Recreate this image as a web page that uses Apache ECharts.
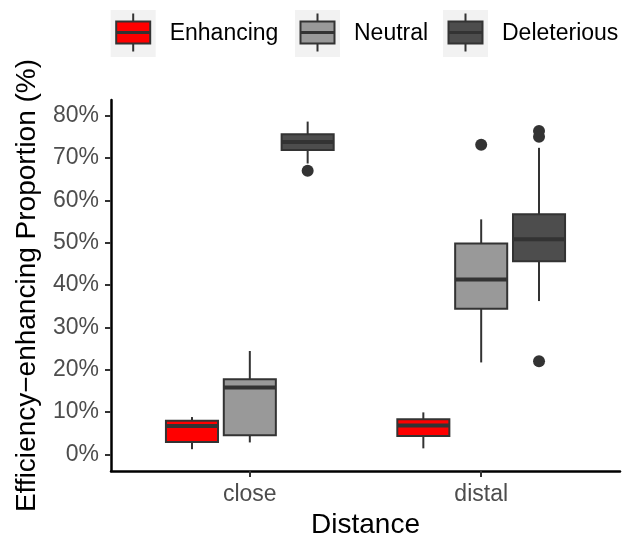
<!DOCTYPE html>
<html>
<head>
<meta charset="utf-8">
<script src="https://cdn.jsdelivr.net/npm/echarts@6/dist/echarts.min.js"></script>
<style>
  html, body { margin: 0; padding: 0; background: #fff; }
  #chart { width: 637px; height: 537px; }
</style>
</head>
<body>
<div id="chart"></div>
<script>
// categories and groups
const distances = ['close', 'distal'];
const groups = ['Enhancing', 'Neutral', 'Deleterious'];
const groupColors = ['#ff0000', '#999999', '#4d4d4d'];

// box stats per distance: [lower whisker, Q1, median, Q3, upper whisker] in %
const enhancingStats = [[1.2, 2.9, 6.7, 7.95, 8.8], [1.4, 4.3, 6.8, 8.3, 9.9]];
const neutralStats = [[2.8, 4.5, 15.8, 17.7, 24.4], [21.7, 34.4, 41.3, 49.8, 55.5]];
const deleteriousStats = [[68.7, 71.9, 73.8, 75.6, 78.6], [36.2, 45.6, 50.8, 56.7, 72.4]];

// outliers per distance
const enhancingOutliers = [[], []];
const neutralOutliers = [[], [73.1]];
const deleteriousOutliers = [[67.0], [76.4, 75.0, 22.0]];

const yTicks = [0, 10, 20, 30, 40, 50, 60, 70, 80];

const allStats = [enhancingStats, neutralStats, deleteriousStats];
const allOutliers = [enhancingOutliers, neutralOutliers, deleteriousOutliers];
const dodge = [-0.25, 0, 0.25];
const boxWidth = 0.225;
const font = '"Liberation Sans", Arial, Helvetica, sans-serif';

let chart = echarts.init(document.getElementById('chart'));

function renderBox(params, api) {
  let x = api.value(0);
  let low = api.coord([x, api.value(1)]);
  let q1 = api.coord([x, api.value(2)]);
  let med = api.coord([x, api.value(3)]);
  let q3 = api.coord([x, api.value(4)]);
  let high = api.coord([x, api.value(5)]);
  let half = api.size([boxWidth, 0])[0] / 2;
  let fill = api.visual('color');
  return {
    type: 'group',
    children: [
      { type: 'line', shape: { x1: low[0], y1: low[1], x2: q1[0], y2: q1[1] }, style: { stroke: '#333', lineWidth: 2 } },
      { type: 'line', shape: { x1: high[0], y1: high[1], x2: q3[0], y2: q3[1] }, style: { stroke: '#333', lineWidth: 2 } },
      { type: 'rect', shape: { x: q3[0] - half, y: q3[1], width: half * 2, height: q1[1] - q3[1] }, style: { fill: fill, stroke: '#333', lineWidth: 2 } },
      { type: 'line', shape: { x1: med[0] - half, y1: med[1], x2: med[0] + half, y2: med[1] }, style: { stroke: '#333', lineWidth: 4 } }
    ]
  };
}

let series = [];
groups.forEach(function (g, gi) {
  series.push({
    name: g,
    type: 'custom',
    renderItem: renderBox,
    itemStyle: { color: groupColors[gi] },
    encode: { x: 0, y: [1, 2, 3, 4, 5] },
    data: allStats[gi].map(function (s, ci) { return [ci + 1 + dodge[gi]].concat(s); }),
    z: 2
  });
  let pts = [];
  allOutliers[gi].forEach(function (list, ci) {
    list.forEach(function (v) { pts.push([ci + 1 + dodge[gi], v]); });
  });
  series.push({
    type: 'scatter',
    symbolSize: 12,
    itemStyle: { color: '#333', opacity: 1 },
    data: pts,
    z: 3
  });
});

// legend drawn as ggplot-style keys
const legendX = [110.7, 295, 443];
let legendEls = [];
groups.forEach(function (g, gi) {
  let x0 = legendX[gi];
  legendEls.push(
    { type: 'rect', shape: { x: x0, y: 10, width: 45, height: 47 }, style: { fill: '#f2f2f2' } },
    { type: 'line', shape: { x1: x0 + 22.5, y1: 13.5, x2: x0 + 22.5, y2: 51.5 }, style: { stroke: '#333', lineWidth: 2 } },
    { type: 'rect', shape: { x: x0 + 5.5, y: 21.5, width: 34, height: 22 }, style: { fill: groupColors[gi], stroke: '#333', lineWidth: 2 } },
    { type: 'line', shape: { x1: x0 + 5.5, y1: 32.5, x2: x0 + 39.5, y2: 32.5 }, style: { stroke: '#333', lineWidth: 3 } },
    { type: 'text', x: x0 + 59, y: 34, style: { text: g, fill: '#000', font: '23px ' + font, textVerticalAlign: 'middle' } }
  );
});

chart.setOption({
  animation: false,
  textStyle: { fontFamily: font },
  grid: { left: 111, right: 17, top: 100, bottom: 66, containLabel: false, outerBoundsMode: 'none' },
  xAxis: {
    type: 'value',
    min: 0.4,
    max: 2.6,
    name: 'Distance',
    nameLocation: 'middle',
    nameGap: 36,
    nameTextStyle: { fontSize: 28, color: '#000', fontFamily: font },
    splitLine: { show: false },
    axisLine: { show: true, onZero: false, lineStyle: { color: '#000', width: 2.5 } },
    axisTick: { show: true, customValues: [1, 2], length: 6, lineStyle: { color: '#333', width: 2 } },
    axisLabel: {
      customValues: [1, 2],
      margin: 12,
      fontSize: 23,
      color: '#4d4d4d',
      formatter: function (v) { return distances[Math.round(v) - 1]; }
    }
  },
  yAxis: {
    type: 'value',
    min: -3.95,
    max: 83.7,
    name: 'Efficiency\u2212enhancing Proportion (%)',
    nameLocation: 'middle',
    nameGap: 70,
    nameTextStyle: { fontSize: 28, color: '#000', fontFamily: font },
    splitLine: { show: false },
    axisLine: { show: true, onZero: false, lineStyle: { color: '#000', width: 2.5 } },
    axisTick: { show: true, customValues: yTicks, length: 6, lineStyle: { color: '#333', width: 2 } },
    axisLabel: {
      customValues: yTicks,
      margin: 12,
      fontSize: 23,
      color: '#4d4d4d',
      formatter: function (v) { return v + '%'; }
    }
  },
  graphic: legendEls,
  series: series
});
</script>
</body>
</html>
